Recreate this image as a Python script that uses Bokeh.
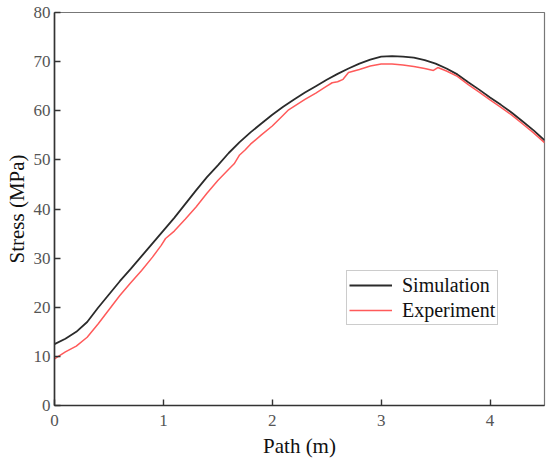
from bokeh.plotting import figure
from bokeh.models import Range1d, FixedTicker, Legend, LegendItem
from bokeh.embed import file_html
from bokeh.resources import INLINE

# Data
sim_x = [0.0, 0.1, 0.2, 0.3, 0.4, 0.5, 0.6, 0.7, 0.8, 0.9, 1.0, 1.1, 1.2, 1.3, 1.4,
         1.5, 1.6, 1.7, 1.8, 1.9, 2.0, 2.1, 2.2, 2.3, 2.4, 2.5, 2.6, 2.7, 2.8, 2.9,
         3.0, 3.1, 3.2, 3.3, 3.4, 3.5, 3.6, 3.7, 3.8, 3.9, 4.0, 4.1, 4.2, 4.3, 4.4, 4.5]
sim_y = [12.5, 13.6, 15.0, 17.0, 19.9, 22.6, 25.3, 27.8, 30.4, 33.0, 35.6, 38.2, 41.0, 43.8, 46.5,
         48.9, 51.4, 53.6, 55.6, 57.4, 59.2, 60.8, 62.3, 63.7, 65.0, 66.3, 67.5, 68.6, 69.6, 70.4,
         71.0, 71.1, 71.0, 70.8, 70.3, 69.6, 68.6, 67.4, 65.8, 64.3, 62.7, 61.2, 59.6, 57.8, 56.0, 54.0]

exp_x = [0.0, 0.05, 0.1, 0.2, 0.3, 0.4, 0.5, 0.6, 0.7, 0.8, 0.9, 0.98, 1.02, 1.1, 1.2, 1.3,
         1.4, 1.5, 1.6, 1.65, 1.7, 1.75, 1.8, 1.9, 2.0, 2.1, 2.15, 2.2, 2.3, 2.4, 2.5, 2.55,
         2.6, 2.65, 2.7, 2.8, 2.9, 3.0, 3.1, 3.2, 3.3, 3.4, 3.48, 3.52, 3.6, 3.7, 3.8, 3.9,
         4.0, 4.1, 4.2, 4.3, 4.4, 4.5]
exp_y = [9.5, 10.2, 10.9, 12.1, 13.9, 16.6, 19.5, 22.4, 25.0, 27.5, 30.2, 32.6, 34.0, 35.5, 37.9, 40.4,
         43.2, 45.8, 48.1, 49.2, 51.0, 52.0, 53.2, 55.1, 56.9, 59.1, 60.2, 60.9, 62.3, 63.6, 65.0, 65.7,
         65.9, 66.4, 67.8, 68.4, 69.1, 69.5, 69.5, 69.3, 69.0, 68.6, 68.2, 68.8, 68.1, 67.0, 65.3, 63.8,
         62.2, 60.7, 59.1, 57.3, 55.5, 53.5]

x_ticks = [0, 1, 2, 3, 4]
y_ticks = [0, 10, 20, 30, 40, 50, 60, 70, 80]
series_names = ["Simulation", "Experiment"]

FONT = "Liberation Serif"

p = figure(width=546, height=460, output_backend="svg", toolbar_location=None,
           x_range=Range1d(0, 4.5), y_range=Range1d(0, 80),
           min_border_left=54, min_border_right=2, min_border_top=12, min_border_bottom=55)
p.xgrid.visible = False
p.ygrid.visible = False
p.outline_line_color = "#777777"
p.outline_line_width = 1.2

for ax in (p.xaxis[0], p.yaxis[0]):
    ax.axis_line_color = "#333333"
    ax.axis_line_width = 1.6
    ax.major_tick_in = 6
    ax.major_tick_out = 0
    ax.major_tick_line_color = "#333333"
    ax.major_tick_line_width = 1.4
    ax.minor_tick_line_color = None
    ax.major_label_text_font = FONT
    ax.major_label_text_font_size = "17px"
    ax.major_label_text_color = "#555555"
    ax.axis_label_text_font = FONT
    ax.axis_label_text_font_size = "21px"
    ax.axis_label_text_font_style = "normal"
    ax.axis_label_text_color = "#111111"

p.xaxis.ticker = FixedTicker(ticks=x_ticks)
p.yaxis.ticker = FixedTicker(ticks=y_ticks)
p.xaxis.axis_label = "Path (m)"
p.yaxis.axis_label = "Stress (MPa)"
p.xaxis.major_label_standoff = 9
p.yaxis.major_label_standoff = 4
p.xaxis.axis_label_standoff = 5
p.yaxis.axis_label_standoff = 2

r1 = p.line(sim_x, sim_y, line_color="#2b2b2b", line_width=1.8)
r2 = p.line(exp_x, exp_y, line_color="#ff5a5a", line_width=1.5)

legend = Legend(items=[LegendItem(label=series_names[0], renderers=[r1]),
                       LegendItem(label=series_names[1], renderers=[r2])],
                location=(292, 80))
legend.border_line_color = "#999999"
legend.border_line_width = 1
legend.label_text_font = FONT
legend.label_text_font_size = "20px"
legend.label_text_color = "#111111"
legend.glyph_width = 43
legend.glyph_height = 24
legend.label_height = 24
legend.label_standoff = 10
legend.padding = 2
legend.spacing = 1
legend.margin = 0
legend.background_fill_alpha = 1
p.add_layout(legend)

open("out.html", "w").write(file_html(p, INLINE))
